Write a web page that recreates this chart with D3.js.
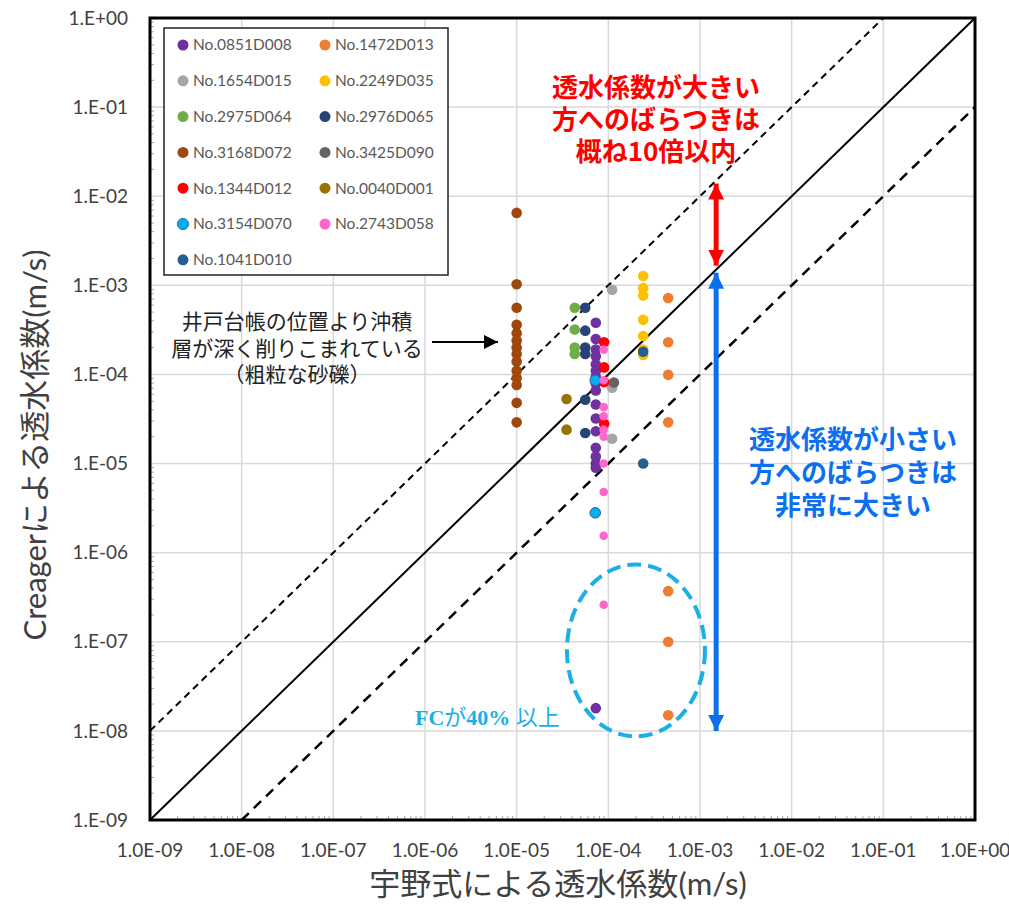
<!DOCTYPE html>
<html>
<head>
<meta charset="utf-8">
<script src="https://cdn.jsdelivr.net/npm/d3@7"></script>
<style>
  body { margin: 0; background: #fff; }
  svg { display: block; }
</style>
</head>
<body>
<div id="chart"></div>
<script>
// 系列名と色（凡例の順）
const seriesNames = ['No.0851D008', 'No.1472D013', 'No.1654D015', 'No.2249D035', 'No.2975D064', 'No.2976D065',
  'No.3168D072', 'No.3425D090', 'No.1344D012', 'No.0040D001', 'No.3154D070', 'No.2743D058', 'No.1041D010'];
const seriesColors = ['#7030A0', '#ED7D31', '#A5A5A5', '#FFC000', '#70AD47', '#264478',
  '#9E480E', '#636363', '#FF0000', '#997300', '#00B0F0', '#FF66CC', '#255E91'];

// 宇野式による透水係数（各地点のx）
const unoK = [7.3e-5, 4.5e-4, 1.1e-4, 2.4e-4, 4.3e-5, 5.6e-5, 1.0e-5, 1.15e-4, 9.0e-5, 3.5e-5, 7.2e-5, 8.9e-5, 2.4e-4];

// Creagerによる透水係数（各地点のy）
const creager0851 = [3.8e-4, 2.5e-4, 1.9e-4, 1.6e-4, 1.3e-4, 1.1e-4, 9.4e-5, 7.9e-5, 6.6e-5, 4.6e-5, 3.2e-5, 2.3e-5, 1.5e-5, 1.2e-5, 1.0e-5, 9.0e-6, 1.8e-8];
const creager1472 = [7.2e-4, 2.3e-4, 9.9e-5, 2.9e-5, 3.7e-7, 1.0e-7, 1.5e-8];
const creager1654 = [8.9e-4, 7.1e-5, 1.9e-5];
const creager2249 = [1.27e-3, 9.3e-4, 7.7e-4, 4.1e-4, 2.7e-4, 1.9e-4, 1.65e-4];
const creager2975 = [5.6e-4, 3.2e-4, 2.0e-4, 1.7e-4];
const creager2976 = [5.6e-4, 3.1e-4, 2.0e-4, 1.7e-4, 5.2e-5, 2.2e-5];
const creager3168 = [6.5e-3, 1.03e-3, 5.6e-4, 3.6e-4, 2.9e-4, 2.4e-4, 2.0e-4, 1.7e-4, 1.4e-4, 1.1e-4, 9.1e-5, 7.6e-5, 4.8e-5, 2.9e-5];
const creager3425 = [8.1e-5];
const creager1344 = [2.3e-4, 1.2e-4, 8.2e-5, 2.8e-5];
const creager0040 = [5.3e-5, 2.4e-5];
const creager3154 = [8.6e-5, 2.8e-6];
const creager2743 = [1.9e-4, 8.6e-5, 4.3e-5, 3.4e-5, 2.4e-5, 2.0e-5, 1.0e-5, 4.8e-6, 1.55e-6, 2.6e-7];
const creager1041 = [1.8e-4, 1.0e-5];

const creagerValues = [creager0851, creager1472, creager1654, creager2249, creager2975, creager2976,
  creager3168, creager3425, creager1344, creager0040, creager3154, creager2743, creager1041];

// 軸目盛
const decadeTicks = [1e-9, 1e-8, 1e-7, 1e-6, 1e-5, 1e-4, 1e-3, 1e-2, 1e-1, 1e0];
const xTickLabels = ['1.0E-09', '1.0E-08', '1.0E-07', '1.0E-06', '1.0E-05', '1.0E-04', '1.0E-03', '1.0E-02', '1.0E-01', '1.0E+00'];
const yTickLabels = ['1.E-09', '1.E-08', '1.E-07', '1.E-06', '1.E-05', '1.E-04', '1.E-03', '1.E-02', '1.E-01', '1.E+00'];

// 注記
const redNote = ['透水係数が大きい', '方へのばらつきは', '概ね10倍以内'];
const blueNote = ['透水係数が小さい', '方へのばらつきは', '非常に大きい'];
const blackNote = ['井戸台帳の位置より沖積', '層が深く削りこまれている', '（粗粒な砂礫）'];
const arrowX = 1.5e-3;   // 矢印の位置（x）
const ellipseCenter = [2.0e-4, 8.0e-8];

const width = 1009, height = 911;
const plot = { left: 150, top: 18, right: 975, bottom: 820 };
const latin = 'Lato, "Noto Sans", sans-serif';
const jp = '"Noto Sans CJK JP", sans-serif';

const svg = d3.select('#chart').append('svg')
  .attr('width', width)
  .attr('height', height);

const x = d3.scaleLog().domain([1e-9, 1]).range([plot.left, plot.right]);
const y = d3.scaleLog().domain([1e-9, 1]).range([plot.bottom, plot.top]);

// グリッド
svg.append('g').selectAll('line.gx')
  .data(decadeTicks)
  .join('line')
  .attr('x1', d => x(d)).attr('x2', d => x(d))
  .attr('y1', plot.top).attr('y2', plot.bottom)
  .attr('stroke', '#d9d9d9').attr('stroke-width', 1.5);
svg.append('g').selectAll('line.gy')
  .data(decadeTicks)
  .join('line')
  .attr('x1', plot.left).attr('x2', plot.right)
  .attr('y1', d => y(d)).attr('y2', d => y(d))
  .attr('stroke', '#d9d9d9').attr('stroke-width', 1.5);

// 補助目盛（内向き）
const minorTicks = [];
decadeTicks.slice(0, -1).forEach(d => {
  for (let k = 2; k <= 9; k++) minorTicks.push(d * k);
});
svg.append('g').selectAll('line')
  .data(minorTicks)
  .join('line')
  .attr('x1', plot.left).attr('x2', plot.left + 4)
  .attr('y1', d => y(d)).attr('y2', d => y(d))
  .attr('stroke', '#a6a6a6').attr('stroke-width', 1);
svg.append('g').selectAll('line')
  .data(minorTicks)
  .join('line')
  .attr('x1', d => x(d)).attr('x2', d => x(d))
  .attr('y1', plot.bottom).attr('y2', plot.bottom - 4)
  .attr('stroke', '#a6a6a6').attr('stroke-width', 1);

// 1:1 線と ±10倍線
const lineGen = d3.line().x(d => x(d[0])).y(d => y(d[1]));
svg.append('path')
  .attr('d', lineGen([[1e-9, 1e-9], [1, 1]]))
  .attr('stroke', '#000').attr('stroke-width', 2).attr('fill', 'none');
svg.append('path')
  .attr('d', lineGen([[1e-9, 1e-8], [1e-1, 1]]))
  .attr('stroke', '#000').attr('stroke-width', 2).attr('stroke-dasharray', '7,5').attr('fill', 'none');
svg.append('path')
  .attr('d', lineGen([[1e-8, 1e-9], [1, 1e-1]]))
  .attr('stroke', '#000').attr('stroke-width', 2.5).attr('stroke-dasharray', '10,7').attr('fill', 'none');

// データ点
seriesNames.forEach((name, i) => {
  svg.append('g').selectAll('circle')
    .data(creagerValues[i])
    .join('circle')
    .attr('cx', x(unoK[i]))
    .attr('cy', d => y(d))
    .attr('r', name === 'No.2743D058' ? 4.3 : 5.3)
    .attr('fill', seriesColors[i])
    .attr('stroke', name === 'No.3154D070' ? '#2e5f9e' : 'none')
    .attr('stroke-width', 1);
});

// 外枠
svg.append('rect')
  .attr('x', plot.left).attr('y', plot.top)
  .attr('width', plot.right - plot.left).attr('height', plot.bottom - plot.top)
  .attr('fill', 'none').attr('stroke', '#000').attr('stroke-width', 3);

// 軸ラベル
svg.append('g').selectAll('text')
  .data(decadeTicks)
  .join('text')
  .attr('x', 128)
  .attr('y', d => y(d))
  .attr('dy', '0.35em')
  .attr('text-anchor', 'end')
  .attr('font-family', latin).attr('font-size', 19).attr('fill', '#404040')
  .text((d, i) => yTickLabels[i]);
svg.append('g').selectAll('text')
  .data(decadeTicks)
  .join('text')
  .attr('x', d => x(d))
  .attr('y', 850)
  .attr('dy', '0.35em')
  .attr('text-anchor', 'middle')
  .attr('font-family', latin).attr('font-size', 19).attr('fill', '#404040')
  .text((d, i) => xTickLabels[i]);

// 軸タイトル
const xTitle = svg.append('text')
  .attr('x', 558).attr('y', 895)
  .attr('text-anchor', 'middle')
  .attr('font-size', 31).attr('fill', '#404040');
xTitle.append('tspan').attr('font-family', jp).text('宇野式による透水係数');
xTitle.append('tspan').attr('font-family', latin).text('(m/s)');

const yTitle = svg.append('text')
  .attr('transform', 'translate(46,445) rotate(-90)')
  .attr('text-anchor', 'middle')
  .attr('font-size', 31).attr('fill', '#404040');
yTitle.append('tspan').attr('font-family', latin).text('Creager');
yTitle.append('tspan').attr('font-family', jp).text('による透水係数');
yTitle.append('tspan').attr('font-family', latin).text('(m/s)');

// 凡例
const legend = svg.append('g');
legend.append('rect')
  .attr('x', 164).attr('y', 28).attr('width', 284).attr('height', 247)
  .attr('fill', '#fff').attr('stroke', '#222').attr('stroke-width', 1.5);
seriesNames.forEach((name, i) => {
  const col = i % 2, row = Math.floor(i / 2);
  const lx = 183 + col * 142, ly = 45 + row * 35.8;
  legend.append('circle')
    .attr('cx', lx).attr('cy', ly).attr('r', 5.5)
    .attr('fill', seriesColors[i])
    .attr('stroke', name === 'No.3154D070' ? '#2e5f9e' : 'none');
  legend.append('text')
    .attr('x', lx + 10).attr('y', ly).attr('dy', '0.35em')
    .attr('font-family', latin).attr('font-size', 15.5).attr('fill', '#595959')
    .text(name);
});

// 矢印マーカー
const defs = svg.append('defs');
function addArrowHead(id, color, w, h) {
  defs.append('marker')
    .attr('id', id)
    .attr('viewBox', '0 0 10 10')
    .attr('refX', 10).attr('refY', 5)
    .attr('markerWidth', w).attr('markerHeight', h)
    .attr('markerUnits', 'userSpaceOnUse')
    .attr('orient', 'auto-start-reverse')
    .append('path').attr('d', 'M0,0 L10,5 L0,10 Z').attr('fill', color);
}
addArrowHead('arrRed', '#FF0000', 16, 18);
addArrowHead('arrBlue', '#0B6FF0', 16, 18);
addArrowHead('arrBlack', '#000', 14, 14);

// 赤矢印（10倍線〜1:1線）
svg.append('line')
  .attr('x1', x(arrowX)).attr('x2', x(arrowX))
  .attr('y1', y(arrowX * 10) + 3).attr('y2', y(arrowX) - 4)
  .attr('stroke', '#FF0000').attr('stroke-width', 5)
  .attr('marker-start', 'url(#arrRed)').attr('marker-end', 'url(#arrRed)');

// 青矢印（1:1線〜1E-08）
svg.append('line')
  .attr('x1', x(arrowX)).attr('x2', x(arrowX))
  .attr('y1', y(arrowX) + 3).attr('y2', y(1e-8))
  .attr('stroke', '#0B6FF0').attr('stroke-width', 5)
  .attr('marker-start', 'url(#arrBlue)').attr('marker-end', 'url(#arrBlue)');

// 注記テキスト
svg.append('g').selectAll('text')
  .data(redNote)
  .join('text')
  .attr('x', 656).attr('y', (d, i) => 88 + i * 32)
  .attr('dy', '0.35em').attr('text-anchor', 'middle')
  .attr('font-family', jp).attr('font-weight', 'bold').attr('font-size', 26)
  .attr('fill', '#FF0000')
  .text(d => d);
svg.append('g').selectAll('text')
  .data(blueNote)
  .join('text')
  .attr('x', 853).attr('y', (d, i) => 440 + i * 33)
  .attr('dy', '0.35em').attr('text-anchor', 'middle')
  .attr('font-family', jp).attr('font-weight', 'bold').attr('font-size', 26)
  .attr('fill', '#0B6FF0')
  .text(d => d);
svg.append('g').selectAll('text')
  .data(blackNote)
  .join('text')
  .attr('x', 297).attr('y', (d, i) => 322 + i * 26.5)
  .attr('dy', '0.35em').attr('text-anchor', 'middle')
  .attr('font-family', jp).attr('font-size', 21)
  .attr('fill', '#222')
  .text(d => d);
svg.append('line')
  .attr('x1', 432).attr('x2', 498).attr('y1', 342).attr('y2', 342)
  .attr('stroke', '#000').attr('stroke-width', 2)
  .attr('marker-end', 'url(#arrBlack)');

// FC 40%以上の楕円
svg.append('ellipse')
  .attr('cx', x(ellipseCenter[0])).attr('cy', y(ellipseCenter[1]))
  .attr('rx', 69).attr('ry', 86)
  .attr('fill', 'none').attr('stroke', '#1AAFE6').attr('stroke-width', 4)
  .attr('stroke-dasharray', '14,7');
const fc = svg.append('text')
  .attr('x', 415).attr('y', 725)
  .attr('font-size', 22).attr('font-weight', 'bold').attr('fill', '#1AAFE6');
fc.append('tspan').attr('font-family', '"Liberation Serif", serif').text('FC');
fc.append('tspan').attr('font-family', jp).attr('font-weight', 'normal').text('が');
fc.append('tspan').attr('font-family', '"Liberation Serif", serif').text('40% ');
fc.append('tspan').attr('font-family', jp).attr('font-weight', 'normal').text('以上');
</script>
</body>
</html>
